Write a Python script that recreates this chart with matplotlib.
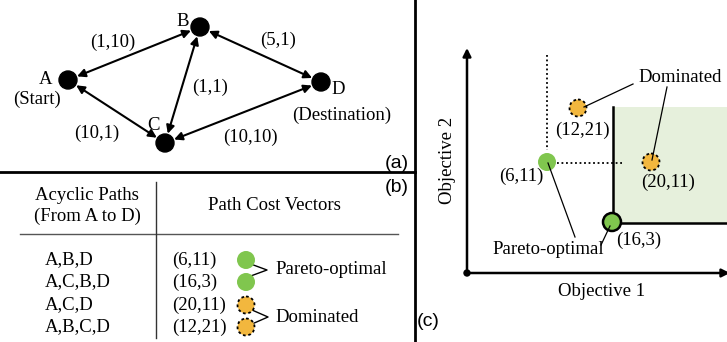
import matplotlib.pyplot as plt
from matplotlib.patches import Circle, Rectangle

plt.rcParams["font.family"] = ["Liberation Serif", "DejaVu Serif"]

GREEN = "#80c64e"
ORANGE = "#f2b73e"
SHADE = "#e6f0dc"

# ---- panel (a): graph ----
node_names = ["A", "B", "C", "D"]
node_xy = {"A": (68, 80), "B": (200, 27), "C": (165, 143), "D": (321, 82)}
edges = [("A", "B"), ("B", "D"), ("B", "C"), ("A", "C"), ("C", "D")]
edge_costs = ["(1,10)", "(5,1)", "(1,1)", "(10,1)", "(10,10)"]
edge_label_xy = [(113, 42), (278, 40), (210, 87), (97, 133), (250, 137)]
node_label_xy = {"A": (46, 80), "B": (183, 22), "C": (153, 125), "D": (338, 90)}

# ---- panel (b): table ----
paths = ["A,B,D", "A,C,B,D", "A,C,D", "A,B,C,D"]
path_costs = ["(6,11)", "(16,3)", "(20,11)", "(12,21)"]
is_pareto = [True, True, False, False]
row_y = [260, 282, 305, 327]

# ---- panel (c): objective space (schematic positions) ----
point_labels = ["(6,11)", "(16,3)", "(20,11)", "(12,21)"]
point_xy = [(547, 162), (612, 222), (651, 162), (578, 108)]
point_label_xy = [(521, 176), (639, 240), (668, 182), (582, 130)]

fig = plt.figure(figsize=(7.27, 3.42), dpi=100)
ax = fig.add_axes([0, 0, 1, 1])
ax.set_xlim(0, 727)
ax.set_ylim(342, 0)
ax.axis("off")

FS = 13.5
R = 9

# separators
ax.plot([0, 415], [172, 172], color="black", lw=2)
ax.plot([415, 415], [0, 342], color="black", lw=2)

# graph
for (u, v), cost, (lx, ly) in zip(edges, edge_costs, edge_label_xy):
    ax.annotate("", xy=node_xy[v], xytext=node_xy[u],
                arrowprops=dict(arrowstyle="<|-|>", color="black", lw=1.5,
                                mutation_scale=12, shrinkA=7, shrinkB=7))
    ax.text(lx, ly, cost, fontsize=FS, ha="center", va="center")
for n in node_names:
    ax.add_patch(Circle(node_xy[n], R, color="black", zorder=3))
    ax.text(*node_label_xy[n], n, fontsize=FS, ha="center", va="center")
ax.text(37, 99, "(Start)", fontsize=FS, ha="center", va="center")
ax.text(342, 115, "(Destination)", fontsize=FS, ha="center", va="center")
ax.text(397, 163, "(a)", fontsize=14, family="Liberation Sans", ha="center", va="center")

# table
ax.text(397, 188, "(b)", fontsize=14, family="Liberation Sans", ha="center", va="center")
ax.text(87, 206, "Acyclic Paths\n(From A to D)", fontsize=FS, ha="center", va="center",
        linespacing=1.25)
ax.text(274, 205, "Path Cost Vectors", fontsize=FS, ha="center", va="center")
ax.plot([20, 398], [234, 234], color="#555555", lw=1)
ax.plot([156, 156], [182, 338], color="#333333", lw=1)
for p, c, good, y in zip(paths, path_costs, is_pareto, row_y):
    ax.text(45, y, p, fontsize=FS, ha="left", va="center")
    ax.text(172, y, c, fontsize=FS, ha="left", va="center")
    if good:
        ax.add_patch(Circle((246, y), R, facecolor=GREEN, edgecolor="none", zorder=3))
    else:
        ax.add_patch(Circle((246, y), R - 0.5, facecolor=ORANGE, edgecolor="black",
                            lw=1.3, ls=(0, (1.5, 1.5)), zorder=3))
ax.plot([248, 267, 248], [263, 270, 277], color="black", lw=1)
ax.plot([252, 268, 252], [310, 317, 324], color="black", lw=1)
ax.text(275, 270, "Pareto-optimal", fontsize=FS, ha="left", va="center")
ax.text(275, 317, "Dominated", fontsize=FS, ha="left", va="center")

# objective space
ax.add_patch(Rectangle((613, 107), 114, 116, facecolor=SHADE, edgecolor="none"))
ax.plot([613, 613, 727], [107, 223, 223], color="black", lw=1.8)
ax.annotate("", xy=(467, 48), xytext=(467, 273), annotation_clip=False,
            arrowprops=dict(arrowstyle="-|>", color="black", lw=1.8,
                            mutation_scale=12, shrinkA=0, shrinkB=0))
ax.annotate("", xy=(730, 273), xytext=(467, 273), annotation_clip=False,
            arrowprops=dict(arrowstyle="-|>", color="black", lw=1.8,
                            mutation_scale=12, shrinkA=0, shrinkB=0))
ax.add_patch(Circle((467, 273), 3, color="black", zorder=4))
ax.plot([547, 547], [55, 150], color="black", lw=1.3, ls=(0, (1, 1.5)))
ax.plot([557, 623], [163, 163], color="black", lw=1.3, ls=(0, (1, 1.5)))

for i, ((x, y), lab, (lx, ly)) in enumerate(zip(point_xy, point_labels, point_label_xy)):
    if i == 0:
        ax.add_patch(Circle((x, y), R, facecolor=GREEN, edgecolor="none", zorder=3))
    elif i == 1:
        ax.add_patch(Circle((x, y), R, facecolor=GREEN, edgecolor="black", lw=1.8, zorder=3))
    else:
        ax.add_patch(Circle((x, y), R - 0.5, facecolor=ORANGE, edgecolor="black",
                            lw=1.3, ls=(0, (1.5, 1.5)), zorder=3))
    ax.text(lx, ly, lab, fontsize=FS, ha="center", va="center")

ax.text(680, 77, "Dominated", fontsize=FS, ha="center", va="center")
ax.plot([633, 584], [84, 107], color="black", lw=0.9, zorder=4)
ax.plot([667, 652], [87, 160], color="black", lw=0.9, zorder=4)
ax.text(548, 250, "Pareto-optimal", fontsize=FS, ha="center", va="center")
ax.plot([575, 548], [237, 163], color="black", lw=0.9, zorder=4)
ax.plot([601, 610], [245, 226], color="black", lw=0.9, zorder=4)

ax.text(448, 160, "Objective 2", fontsize=FS, rotation=90, ha="center", va="center")
ax.text(602, 292, "Objective 1", fontsize=FS, ha="center", va="center")
ax.text(428, 322, "(c)", fontsize=14, family="Liberation Sans", ha="center", va="center")

fig.savefig("out.png", dpi=100)
